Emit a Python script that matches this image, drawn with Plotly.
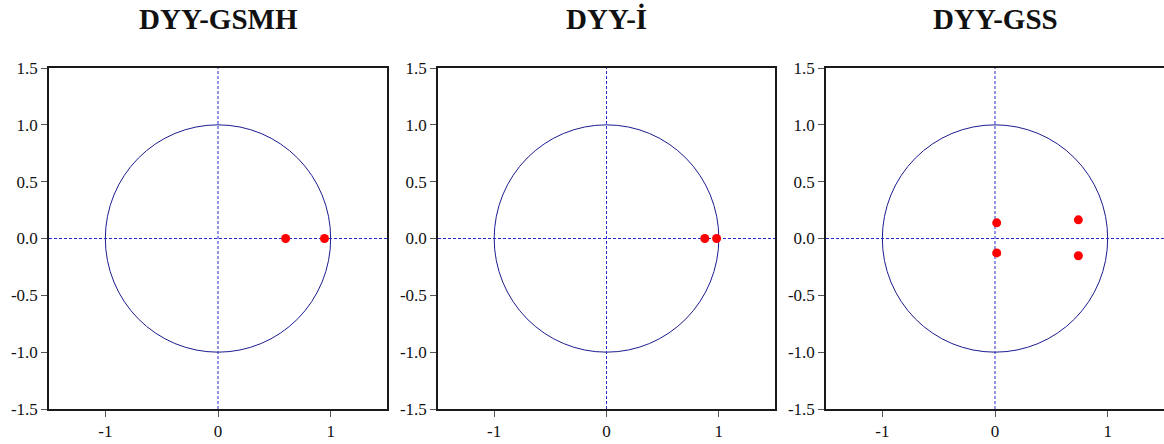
import plotly.graph_objects as go

titles = ["DYY-GSMH", "DYY-İ", "DYY-GSS"]
roots_re = [[0.60, 0.945], [0.875, 0.98], [0.015, 0.015, 0.74, 0.74]]
roots_im = [[0.0, 0.0], [0.0, 0.0], [0.138, -0.127, 0.164, -0.152]]
x_ticks = [-1, 0, 1]
x_tick_labels = ["-1", "0", "1"]
y_ticks = [1.5, 1.0, 0.5, 0.0, -0.5, -1.0, -1.5]
y_tick_labels = ["1.5", "1.0", "0.5", "0.0", "-0.5", "-1.0", "-1.5"]

W, H = 1164, 444
panels_px = [(49, 387), (438, 775), (826, 1164)]
top_px, bot_px = 68, 409

fig = go.Figure()
font = "Liberation Serif, Times New Roman, serif"
navy = "#1c1c8f"
for i, (x0, x1) in enumerate(panels_px):
    sfx = "" if i == 0 else str(i + 1)
    xa, ya = "x" + sfx, "y" + sfx
    fig.add_trace(go.Scatter(x=roots_re[i], y=roots_im[i], mode="markers",
                             marker=dict(color="#ff0000", size=9),
                             xaxis=xa, yaxis=ya, showlegend=False))
    axis_common = dict(showgrid=False, zeroline=False, showline=True, mirror=True,
                       automargin=False,
                       linecolor="#1a1a1a", linewidth=1.5, ticks="outside", ticklen=6,
                       tickcolor="#555555", tickwidth=1,
                       tickfont=dict(family=font, size=17, color="#111111"))
    fig.layout["xaxis" + sfx] = dict(domain=[x0 / W, min(x1 / W, 1.0)], range=[-1.5, 1.5],
                                      tickvals=x_ticks, ticktext=x_tick_labels,
                                      anchor=ya, **axis_common)
    fig.layout["yaxis" + sfx] = dict(domain=[(H - bot_px) / H, (H - top_px) / H], range=[-1.5, 1.5],
                                      tickvals=y_ticks, ticktext=y_tick_labels,
                                      anchor=xa, **axis_common)
    fig.add_shape(type="circle", xref=xa, yref=ya, x0=-1, y0=-1, x1=1, y1=1,
                  line=dict(color=navy, width=1), layer="below")
    fig.add_shape(type="line", xref=xa, yref=ya, x0=-1.5, x1=1.5, y0=0, y1=0,
                  line=dict(color="#2828c8", width=1, dash="3px,2px"), layer="below")
    fig.add_shape(type="line", xref=xa, yref=ya, x0=0, x1=0, y0=-1.5, y1=1.5,
                  line=dict(color="#2828c8", width=1, dash="3px,2px"), layer="below")
    fig.add_annotation(text="<b>" + titles[i] + "</b>", xref="paper", yref="paper",
                       x=((x0 + x1) / 2) / W, y=(H - 19) / H, xanchor="center", yanchor="middle",
                       showarrow=False, font=dict(family=font, size=29, color="#111111"))

fig.update_layout(width=W, height=H, margin=dict(l=0, r=0, t=0, b=0, autoexpand=False),
                  paper_bgcolor="white", plot_bgcolor="white")
fig.write_html("out.html")
